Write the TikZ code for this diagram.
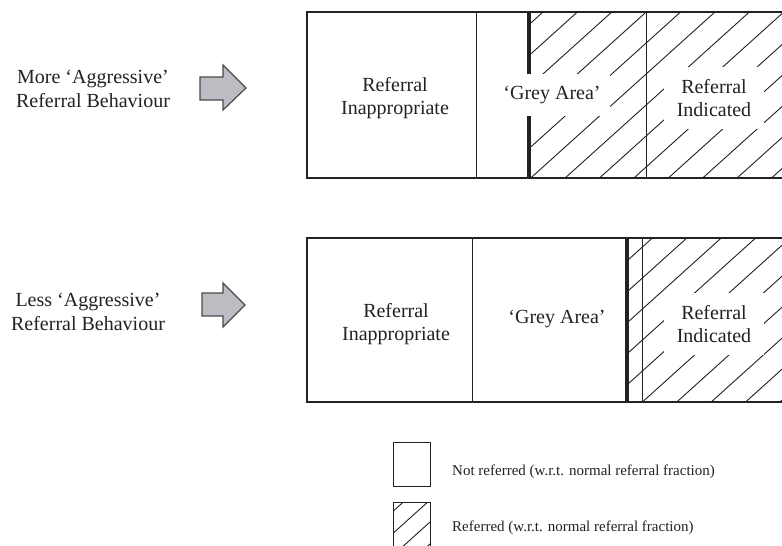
\documentclass[tikz,border=0pt]{standalone}
\usepackage{fontspec}
\setmainfont{Liberation Serif}
\definecolor{ink}{HTML}{222222}
\definecolor{arrowedge}{HTML}{4A4A4A}
\definecolor{arrowfill}{HTML}{BCBCC2}
\begin{document}
\begin{tikzpicture}[x=1pt,y=-1pt,
  barframe/.style={draw=ink, line width=1.2pt},
  divider/.style={draw=ink, line width=0.9pt},
  cutoff/.style={draw=ink, line width=4pt},
  hatchline/.style={draw=ink, line width=0.9pt},
  textlbl/.style={font=\fontsize{20}{23}\selectfont, text=ink, align=center, inner sep=0pt},
  gaplbl/.style={textlbl, fill=white, inner xsep=13pt, inner ysep=12pt},
  sidelbl/.style={font=\fontsize{20}{24}\selectfont, text=ink, align=center, inner sep=0pt},
  keytext/.style={font=\fontsize{15}{18}\selectfont, text=ink, anchor=west, inner sep=0pt},
  keybox/.style={draw=ink, line width=1pt},
  blockarrow/.style={draw=arrowedge, fill=arrowfill, line width=1.2pt, line join=miter}
]
% page area; the bars run past the right edge
\clip (0,0) rectangle (782,546);
\fill[white] (0,0) rectangle (782,546);

% ---------- side labels and block arrows ----------
\node[sidelbl] (more) at (93,89) {More ‘Aggressive’\\Referral Behaviour};
\node[sidelbl] (less) at (88,312) {Less ‘Aggressive’\\Referral Behaviour};

\draw[blockarrow] (200,77) -- (223,77) -- (223,65) -- (246,88) -- (223,110)
  -- (223,100) -- (200,100) -- cycle;
\draw[blockarrow] (202,293) -- (223,293) -- (223,283) -- (245,305) -- (223,327)
  -- (223,316) -- (202,316) -- cycle;

% ---------- upper bar ----------
\begin{scope}
  \clip (529,12) rectangle (790,178);
  \foreach \n in {-6,...,8}
    \draw[hatchline] ({728.3+34.4*\n-1.11*0},0) -- ({728.3+34.4*\n-1.11*190},190);
\end{scope}
\draw[barframe] (307,12) rectangle (800,178);
\draw[divider] (476,12) -- (476,178);
\draw[divider] (646,12) -- (646,178);
\draw[cutoff] (529,12) -- (529,178);

\node[textlbl] (inapA) at (395,98) {Referral\\Inappropriate};
\node[gaplbl, inner xsep=9pt, inner ysep=12pt] (greyA) at (552,95) {‘Grey Area’};
\node[gaplbl] (indA) at (714,98) {Referral\\Indicated};

% ---------- lower bar ----------
\begin{scope}
  \clip (627,238) rectangle (790,402);
  \foreach \n in {-2,...,9}
    \draw[hatchline] ({951+34.4*\n-1.11*230},230) -- ({951+34.4*\n-1.11*410},410);
\end{scope}
\draw[barframe] (307,238) rectangle (800,402);
\draw[divider] (472,238) -- (472,402);
\draw[divider] (642,238) -- (642,402);
\draw[cutoff] (627,238) -- (627,402);

\node[textlbl] (inapB) at (396,324) {Referral\\Inappropriate};
\node[textlbl] (greyB) at (557,319) {‘Grey Area’};
\node[gaplbl] (indB) at (714,324) {Referral\\Indicated};

% ---------- key ----------
\draw[keybox] (393,442) rectangle (430,486);
\node[keytext] (keyA) at (452,472) {Not referred (w.r.t. normal referral fraction)};

\begin{scope}
  \clip (393,502) rectangle (430,560);
  \foreach \n in {-2,...,3}
    \draw[hatchline] ({985+24.4*\n-1.11*495},495) -- ({985+24.4*\n-1.11*565},565);
\end{scope}
\draw[keybox] (393,502) rectangle (430,560);
\node[keytext] (keyB) at (452,528) {Referred (w.r.t. normal referral fraction)};
\end{tikzpicture}
\end{document}
